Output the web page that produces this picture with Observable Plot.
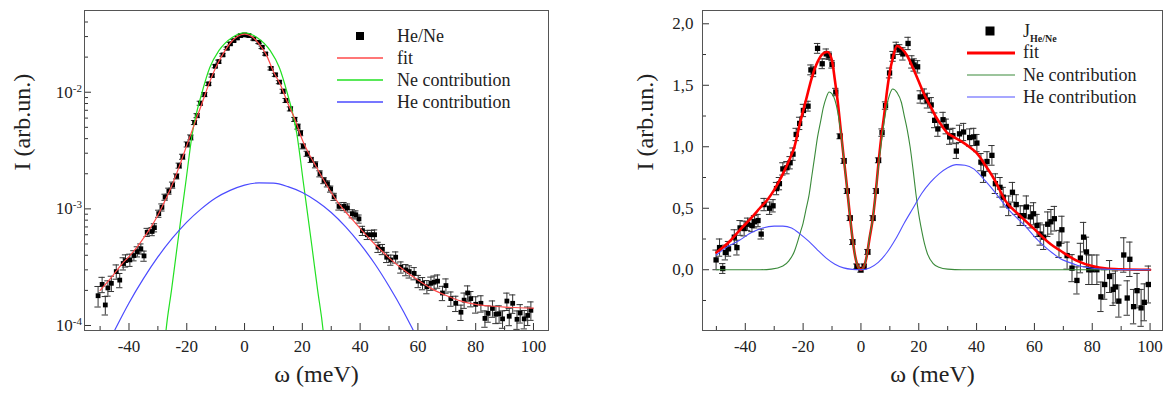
<!DOCTYPE html>
<html><head><meta charset="utf-8">
<script src="https://cdn.jsdelivr.net/npm/d3@7"></script>
<script src="https://cdn.jsdelivr.net/npm/@observablehq/plot@0.6"></script>
<style>
body{margin:0;background:#fff;}
#wrap{position:relative;width:1163px;height:397px;overflow:hidden;background:#fff;font-family:"Liberation Serif","DejaVu Serif",serif;}
#wrap svg, #wrap svg g, #wrap svg text, #wrap svg tspan{font-family:"Liberation Serif","DejaVu Serif",serif !important;}
#left{position:absolute;left:0;top:0;}
#right{position:absolute;left:580px;top:0;}
</style></head><body><div id="wrap"><div id="left"></div><div id="right"></div></div>
<script>
// ---------- LEFT PANEL (log scale) ----------
const leftOmega = [
-50.7,-49.3,-48.2,-47.3,-46.1,-44.4,-43.2,-42.0,-41.2,-39.7,
-38.3,-37.1,-35.9,-34.8,-33.7,-32.0,-31.2,-29.7,-28.6,-27.5,
-26.2,-24.9,-23.5,-22.6,-21.4,-19.8,-18.6,-17.3,-16.4,-15.3,
-13.8,-12.4,-11.2,-10.1,-8.9,-7.5,-6.0,-4.9,-3.7,-2.5,
-1.4,0.0,1.5,3.2,5.0,6.1,7.3,9.2,10.7,12.1,
13.4,14.4,15.9,17.4,18.5,19.4,20.3,21.7,23.1,24.6,
26.1,27.5,28.7,29.8,31.0,32.7,34.4,35.6,37.3,38.5,
39.6,40.8,42.5,43.9,45.0,46.2,47.7,49.2,50.6,52.3,
54.1,55.8,57.0,58.7,60.1,61.6,63.1,64.5,65.6,66.8,
68.5,69.7,71.4,73.1,74.9,76.0,77.2,78.3,80.0,81.8,
83.2,84.3,85.8,87.0,88.1,89.3,90.8,91.6,92.8,94.3,
95.4,96.8,98.0,99.1];
const leftI = [
1.8e-4,2.25e-4,1.5e-4,2.1e-4,2.3e-4,2.9e-4,2.45e-4,3.4e-4,3.6e-4,3.65e-4,
3.98e-4,4.3e-4,4.55e-4,3.95e-4,6.3e-4,6.4e-4,6.9e-4,9.1e-4,1.03e-3,1.26e-3,
1.42e-3,1.6e-3,1.9e-3,2.35e-3,2.8e-3,3.57e-3,4.1e-3,5.5e-3,6.3e-3,8.05e-3,
9.55e-3,1.18e-2,1.39e-2,1.67e-2,1.83e-2,2.09e-2,2.38e-2,2.6e-2,2.77e-2,2.92e-2,
3.06e-2,3.1e-2,3.06e-2,2.87e-2,2.68e-2,2.43e-2,2.13e-2,1.6e-2,1.41e-2,1.22e-2,
1.02e-2,8.5e-3,7.2e-3,5.85e-3,5.08e-3,4.46e-3,3.44e-3,2.97e-3,2.63e-3,2.39e-3,
2.0e-3,1.75e-3,1.64e-3,1.48e-3,1.27e-3,1.05e-3,1.05e-3,1.02e-3,9.1e-4,8.9e-4,
8.2e-4,6.5e-4,6.0e-4,6.0e-4,6.0e-4,4.7e-4,4.5e-4,3.85e-4,3.65e-4,3.85e-4,
3.16e-4,3.0e-4,2.9e-4,2.8e-4,2.4e-4,2.3e-4,2.15e-4,2.3e-4,2.35e-4,2.4e-4,
1.9e-4,2.2e-4,1.7e-4,1.55e-4,1.3e-4,1.65e-4,1.9e-4,1.7e-4,1.52e-4,1.55e-4,
1.15e-4,1.27e-4,1.4e-4,1.25e-4,1.26e-4,1.14e-4,1.62e-4,1.2e-4,1.55e-4,1.13e-4,
1.28e-4,1.14e-4,1.22e-4,1.35e-4];
const leftRelErr = [
.2,.15,.18,.15,.15,.14,.14,.12,.12,.12,
.1,.1,.1,.1,.08,.08,.08,.07,.07,.06,
.06,.06,.05,.05,.05,.05,.05,.04,.04,.04,
.04,.03,.03,.03,.03,.025,.025,.025,.025,.025,
.025,.025,.025,.025,.025,.025,.025,.03,.03,.03,
.04,.04,.04,.04,.05,.05,.05,.05,.05,.06,
.06,.06,.06,.06,.07,.07,.08,.08,.08,.08,
.08,.09,.09,.09,.1,.1,.1,.1,.1,.11,
.11,.11,.12,.12,.12,.12,.13,.13,.13,.13,
.14,.14,.14,.15,.15,.15,.15,.15,.16,.16,
.16,.16,.16,.17,.17,.17,.17,.17,.18,.18,
.18,.18,.18,.18];

const leftFitOmega = [-50,-47.5,-45,-42.5,-40,-37.5,-35,-32.5,-30,-27.5,-25,-22.5,-20,-17.5,-15,-12.5,-10,-7.5,-5,-2.5,0,2.5,5,7.5,10,12.5,15,17.5,20,22.5,25,27.5,30,32.5,35,37.5,40,42.5,45,47.5,50,55,60,65,70,75,80,85,90,95,100];
const leftFitI = [2.0e-4,2.35e-4,2.8e-4,3.35e-4,3.9e-4,4.6e-4,5.6e-4,6.9e-4,8.8e-4,1.18e-3,1.62e-3,2.35e-3,3.5e-3,5.2e-3,7.7e-3,1.15e-2,1.62e-2,2.12e-2,2.63e-2,3.0e-2,3.15e-2,3.0e-2,2.6e-2,2.1e-2,1.5e-2,1.15e-2,8.0e-3,5.8e-3,3.9e-3,2.9e-3,2.25e-3,1.75e-3,1.38e-3,1.12e-3,9.4e-4,8.0e-4,6.8e-4,5.8e-4,5.0e-4,4.35e-4,3.8e-4,3.0e-4,2.45e-4,2.05e-4,1.8e-4,1.62e-4,1.52e-4,1.47e-4,1.44e-4,1.42e-4,1.41e-4];

const leftNeOmega = [-28,-27.2,-25.3,-23.3,-20.4,-18.1,-14.7,-12,-8.9,-4.3,0,4.3,8.9,12,14.7,18.1,20.4,23.3,25.3,27.2,28];
const leftNeI = [5.4e-5,9e-5,2.0e-4,4.8e-4,1.65e-3,4.4e-3,1.0e-2,1.64e-2,2.27e-2,2.95e-2,3.23e-2,2.95e-2,2.27e-2,1.64e-2,1.0e-2,4.4e-3,1.65e-3,4.8e-4,2.0e-4,9e-5,5.4e-5];

const leftHeOmega = [-46,-45,-40,-35,-30,-25,-20,-15,-10,-5,0,5,10,15,20,25,30,35,40,45,50,55,58,59];
const leftHeI = [8.1e-5,9.06e-5,1.56e-4,2.52e-4,3.87e-4,5.6e-4,7.7e-4,1.0e-3,1.24e-3,1.44e-3,1.6e-3,1.67e-3,1.66e-3,1.55e-3,1.38e-3,1.16e-3,9.3e-4,7.0e-4,5.0e-4,3.4e-4,2.17e-4,1.32e-4,9.5e-5,8.5e-5];

const xMajorTicks = [-40,-20,0,20,40,60,80,100];
const xMinorTicks = [-50,-30,-10,10,30,50,70,90];
const leftYMajor = [1e-4,1e-3,1e-2];
const leftYMinor = [2e-4,3e-4,4e-4,5e-4,6e-4,7e-4,8e-4,9e-4,2e-3,3e-3,4e-3,5e-3,6e-3,7e-3,8e-3,9e-3,2e-2,3e-2,4e-2];

// ---------- RIGHT PANEL (linear) ----------
const rightOmega = [
-50.1,-48.9,-47.8,-46.9,-45.8,-43.8,-42.9,-41.8,-40.4,-39.2,
-37.7,-36.8,-35.6,-34.5,-33.5,-31.6,-30.4,-29.2,-28.2,-27.0,
-25.6,-24.5,-23.5,-22.4,-21.2,-19.9,-18.3,-17.3,-16.4,-15.0,
-13.4,-12.0,-11.0,-10.0,-8.7,-7.2,-5.8,-4.7,-3.7,-2.8,
-1.4,0.0,1.1,2.4,4.2,5.3,6.1,7.3,8.5,9.9,
11.1,12.2,13.4,14.5,16.3,17.6,18.4,19.6,20.5,21.9,
23.0,24.3,25.5,26.6,28.4,29.5,30.7,31.8,33.0,34.1,
35.5,37.6,39.0,40.1,41.5,42.4,43.6,45.3,46.5,48.1,
49.2,51.1,52.4,53.7,55.1,56.3,57.2,58.6,59.7,60.9,
62.0,63.2,64.6,65.7,66.9,68.5,69.5,71.3,73.0,74.7,
75.9,77.0,78.0,78.8,79.9,81.6,83.0,84.3,86.0,87.2,
88.0,89.2,90.9,92.1,93.0,94.3,95.5,96.9,98.0,99.4];
const rightI = [
0.08,0.18,0.01,0.14,0.17,0.265,0.18,0.34,0.335,0.37,
0.36,0.39,0.40,0.29,0.53,0.50,0.52,0.66,0.70,0.82,
0.83,0.87,0.94,1.10,1.19,1.295,1.33,1.625,1.61,1.80,
1.675,1.755,1.74,1.67,1.445,1.085,0.885,0.64,0.42,0.225,
0.027,0.0,0.027,0.145,0.42,0.64,0.89,1.115,1.335,1.60,
1.735,1.81,1.79,1.755,1.84,1.69,1.665,1.65,1.405,1.41,
1.375,1.34,1.215,1.145,1.22,1.165,1.08,1.09,0.965,1.105,
1.12,1.075,1.08,1.03,0.875,0.78,0.88,0.93,0.70,0.67,
0.59,0.52,0.63,0.53,0.44,0.44,0.51,0.43,0.455,0.36,
0.29,0.265,0.37,0.39,0.415,0.21,0.325,0.115,0.013,-0.087,
0.095,0.265,0.145,0.0,0.0,0.0,-0.22,-0.12,-0.055,-0.16,
-0.14,-0.255,0.12,-0.23,0.085,-0.30,-0.17,-0.31,-0.265,-0.12];
const rightErr = [
.08,.07,.04,.06,.06,.06,.06,.06,.06,.05,
.05,.05,.05,.04,.05,.05,.05,.05,.05,.05,
.05,.05,.05,.05,.05,.05,.04,.04,.04,.04,
.04,.04,.03,.03,.03,.02,.02,.02,.02,.02,
.02,.02,.02,.02,.02,.02,.02,.03,.03,.04,
.04,.04,.04,.05,.05,.05,.05,.05,.05,.06,
.06,.06,.06,.06,.06,.06,.06,.06,.06,.07,
.07,.07,.07,.07,.07,.07,.08,.08,.08,.08,
.08,.08,.08,.08,.08,.08,.09,.09,.09,.09,
.09,.1,.1,.1,.1,.11,.11,.11,.11,.11,
.12,.12,.12,.12,.12,.12,.12,.12,.13,.13,
.13,.13,.14,.14,.14,.14,.14,.15,.15,.15];

const rightFitOmega = [-50,-45,-42,-38,-35,-32,-30,-27,-25,-23,-21,-19,-17,-15,-13,-11.5,-10,-9,-8,-7,-6,-5,-4,-3,-2,-1,0,1,2,3,4,5,6,7,8,9,10,11,12.5,14,16,18,20,22,24,26,28,30,32,35,38,40,43,46,50,55,60,65,70,75,80,85,90,100];
const rightFitI = [0.14,0.24,0.32,0.42,0.50,0.58,0.65,0.78,0.88,1.0,1.2,1.38,1.56,1.69,1.76,1.77,1.70,1.54,1.36,1.14,0.92,0.71,0.48,0.27,0.11,0.025,0.0,0.025,0.11,0.26,0.40,0.60,0.85,1.07,1.25,1.45,1.61,1.72,1.82,1.80,1.74,1.64,1.53,1.42,1.33,1.24,1.17,1.11,1.08,1.04,0.99,0.95,0.85,0.74,0.56,0.44,0.33,0.22,0.14,0.07,0.03,0.01,0.004,0.0];

const rightNeOmega = [-50,-35,-31,-27,-25,-23,-22,-21,-20,-19,-18,-17,-16,-15,-14,-13,-12,-11,-10,-9,-8,-7,-6,-5,-4,-3,-2,-1,0,1,2,3,4,5,6,7,8,9,10,11,12.5,14,15,16,17,18,19,20,21,22,23,25,27,30,35,100];
const rightNeI = [0,0,0.005,0.03,0.07,0.15,0.22,0.30,0.38,0.49,0.60,0.76,0.92,1.08,1.20,1.32,1.40,1.445,1.43,1.38,1.28,1.12,0.92,0.70,0.48,0.27,0.11,0.025,0,0.025,0.11,0.27,0.40,0.60,0.83,1.03,1.20,1.34,1.43,1.47,1.44,1.36,1.25,1.14,1.00,0.82,0.62,0.45,0.32,0.21,0.13,0.05,0.02,0.005,0,0];

const rightHeOmega = [-50,-46,-42,-38,-34,-30,-27,-24,-21,-18,-15,-12,-9,-6,-3,0,3,6,9,12,15,18,21,24,27,30,33,36,39,42,45,48,51,54,57,60,63,66,69,72,75,80,85,90,100];
const rightHeI = [0.12,0.19,0.24,0.30,0.34,0.355,0.355,0.34,0.29,0.23,0.16,0.095,0.045,0.015,0.003,0,0.015,0.06,0.14,0.25,0.38,0.50,0.62,0.71,0.78,0.83,0.855,0.85,0.82,0.75,0.67,0.58,0.49,0.42,0.35,0.27,0.2,0.14,0.09,0.06,0.035,0.012,0.004,0.001,0];

const rightYMajor = [0,0.5,1,1.5,2];
const rightYMinor = [-0.25,0.25,0.75,1.25,1.75];

// ---------- build tables ----------
const zip = (xs, ys) => xs.map((x, i) => ({x, y: ys[i]}));
const leftPts = leftOmega.map((x, i) => ({x, y: leftI[i], lo: leftI[i] * (1 - leftRelErr[i]), hi: leftI[i] * (1 + leftRelErr[i])}));
const rightPts = rightOmega.map((x, i) => ({x, y: rightI[i], lo: rightI[i] - rightErr[i], hi: rightI[i] + rightErr[i]}));
const CAP = 1.1;
const FONT = '"Liberation Serif", "DejaVu Serif", serif';

const baseStyle = {fontFamily: FONT, fontSize: "17px", color: "#222", background: "transparent", overflow: "visible"};

function errorMarks(pts, col) {
  return [
    Plot.ruleX(pts, {x: "x", y1: "lo", y2: "hi", stroke: col, strokeWidth: 1, clip: true}),
    Plot.ruleY(pts, {y: "lo", x1: d => d.x - CAP, x2: d => d.x + CAP, stroke: col, strokeWidth: 1, clip: true}),
    Plot.ruleY(pts, {y: "hi", x1: d => d.x - CAP, x2: d => d.x + CAP, stroke: col, strokeWidth: 1, clip: true})
  ];
}
const ax = {label: null, stroke: "#333", fontFamily: FONT, fontSize: 17};

const L = Plot.plot({
  width: 549, height: 397,
  marginLeft: 84, marginRight: 1, marginTop: 10, marginBottom: 67,
  style: baseStyle,
  x: {domain: [-55.4, 105.2], label: null},
  y: {type: "log", domain: [9.06e-5, 0.0502], label: null},
  marks: [
    Plot.axisX(xMajorTicks, {...ax, tickSize: -7, tickPadding: 16, tickFormat: d => String(d)}),
    Plot.axisX(xMinorTicks, {...ax, tickSize: -4, tickFormat: () => ""}),
    Plot.axisY(leftYMajor, {...ax, tickSize: -7, tickPadding: 9.5, tickFormat: d => "10^" + Math.round(Math.log10(d))}),
    Plot.axisY(leftYMinor, {...ax, tickSize: -4, tickFormat: () => ""}),
    ...errorMarks(leftPts, "#333"),
    Plot.dot(leftPts, {x: "x", y: "y", symbol: "square", r: 2.7, fill: "#000", stroke: "none"}),
    Plot.line(zip(leftNeOmega, leftNeI), {x: "x", y: "y", stroke: "#22e022", strokeWidth: 1.2, curve: "monotone-x", clip: true}),
    Plot.line(zip(leftHeOmega, leftHeI), {x: "x", y: "y", stroke: "#4a4aff", strokeWidth: 1.2, curve: "monotone-x", clip: true}),
    Plot.line(zip(leftFitOmega, leftFitI), {x: "x", y: "y", stroke: "#ff4a4a", strokeWidth: 1.2, curve: "monotone-x", clip: true}),
    Plot.frame({stroke: "#555", strokeWidth: 1}),
    Plot.text(["ω (meV)"], {frameAnchor: "bottom", dy: 51, fontSize: 24, fontFamily: FONT, fill: "#222"}),
    Plot.text(["I (arb.un.)"], {frameAnchor: "left", rotate: -90, dx: -62, fontSize: 24, fontFamily: FONT, fill: "#222"})
  ]
});

const R = Plot.plot({
  width: 583, height: 397,
  marginLeft: 122, marginRight: 1, marginTop: 10, marginBottom: 67,
  style: baseStyle,
  x: {domain: [-54.8, 104.3], label: null},
  y: {domain: [-0.494, 2.108], label: null},
  marks: [
    Plot.axisX(xMajorTicks, {...ax, tickSize: -7, tickPadding: 16, tickFormat: d => String(d)}),
    Plot.axisX(xMinorTicks, {...ax, tickSize: -4, tickFormat: () => ""}),
    Plot.axisY(rightYMajor, {...ax, tickSize: -7, tickPadding: 16, tickFormat: d => d.toFixed(1).replace(".", ",")}),
    Plot.axisY(rightYMinor, {...ax, tickSize: -4, tickFormat: () => ""}),
    ...errorMarks(rightPts, "#333"),
    Plot.dot(rightPts, {x: "x", y: "y", symbol: "square", r: 3, fill: "#000", stroke: "none"}),
    Plot.line(zip(rightFitOmega, rightFitI), {x: "x", y: "y", stroke: "#ff0000", strokeWidth: 2.6, curve: "monotone-x", clip: true}),
    Plot.line(zip(rightNeOmega, rightNeI), {x: "x", y: "y", stroke: "#3a8a3a", strokeWidth: 1.1, curve: "monotone-x", clip: true}),
    Plot.line(zip(rightHeOmega, rightHeI), {x: "x", y: "y", stroke: "#5050ff", strokeWidth: 1.1, curve: "monotone-x", clip: true}),
    Plot.frame({stroke: "#555", strokeWidth: 1}),
    Plot.text(["ω (meV)"], {frameAnchor: "bottom", dy: 51, fontSize: 24, fontFamily: FONT, fill: "#222"}),
    Plot.text(["I (arb.un.)"], {frameAnchor: "left", rotate: -90, dx: -57, fontSize: 24, fontFamily: FONT, fill: "#222"})
  ]
});

document.getElementById("left").appendChild(L);
document.getElementById("right").appendChild(R);

// superscript exponents on log tick labels
d3.select(L).selectAll('g[aria-label="y-axis tick label"] text').each(function() {
  const m = (this.textContent || "").match(/^10\^(-?\d+)$/);
  if (!m) return;
  const s = d3.select(this);
  s.text(null);
  s.append("tspan").text("10");
  s.append("tspan").attr("dy", "-0.55em").attr("font-size", "11px").text(m[1]);
});

// legends
function legend(svg, ox, items) {
  const g = d3.select(svg).append("g")
    .attr("font-size", 18).attr("fill", "#222")
    .style("font-family", FONT).attr("text-anchor", "start").style("text-anchor", "start");
  for (const it of items) {
    if (it.type === "square") {
      g.append("rect").attr("x", it.cx - ox - it.s / 2).attr("y", it.cy - it.s / 2).attr("width", it.s).attr("height", it.s).attr("fill", "#000");
    } else {
      g.append("line").attr("x1", it.x1 - ox).attr("x2", it.x2 - ox).attr("y1", it.cy).attr("y2", it.cy).attr("stroke", it.color).attr("stroke-width", it.w);
    }
    const t = g.append("text").attr("x", it.tx - ox).attr("y", it.ty).style("text-anchor", "start");
    t.append("tspan").text(it.label);
    if (it.sub) t.append("tspan").attr("dy", 5).attr("font-size", 10).attr("font-weight", "bold").text(it.sub);
  }
}
legend(L, 0, [
  {type: "square", cx: 360, cy: 36, s: 8, tx: 397, ty: 42, label: "He/Ne"},
  {type: "line", x1: 337, x2: 383, cy: 58, color: "#ff4a4a", w: 1.3, tx: 397, ty: 64, label: "fit"},
  {type: "line", x1: 337, x2: 383, cy: 80, color: "#22e022", w: 1.3, tx: 397, ty: 86, label: "Ne contribution"},
  {type: "line", x1: 337, x2: 383, cy: 102, color: "#4a4aff", w: 1.3, tx: 397, ty: 108, label: "He contribution"}
]);
legend(R, 580, [
  {type: "square", cx: 990, cy: 31, s: 9, tx: 1023, ty: 37, label: "J", sub: "He/Ne"},
  {type: "line", x1: 967, x2: 1015, cy: 53, color: "#ff0000", w: 3, tx: 1023, ty: 58, label: "fit"},
  {type: "line", x1: 967, x2: 1015, cy: 75, color: "#3a8a3a", w: 1.2, tx: 1023, ty: 81, label: "Ne contribution"},
  {type: "line", x1: 967, x2: 1015, cy: 97, color: "#5050ff", w: 1.2, tx: 1023, ty: 103, label: "He contribution"}
]);
</script>
</body></html>
